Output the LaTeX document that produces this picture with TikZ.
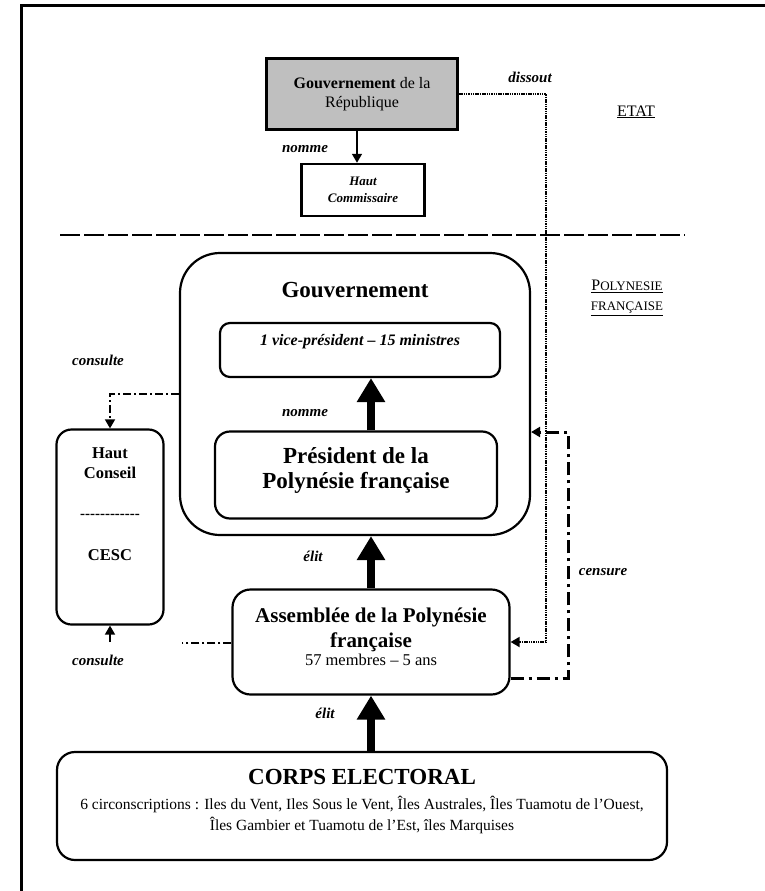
\documentclass[tikz,border=0pt]{standalone}
\usepackage{fontspec}
\setmainfont{Liberation Serif}
\usetikzlibrary{arrows.meta}
\newcommand{\fsz}[2]{\fontsize{#1}{#2}\selectfont}
\tikzstyle{sqbox} = [draw, line width=2.5pt, inner sep=0pt, align=center]
\tikzstyle{rbox} = [draw, line width=2.2pt, inner sep=0pt, rounded corners=16pt]
\tikzstyle{txt} = [inner sep=0pt, align=center]
\tikzstyle{lbl} = [inner sep=0pt, font=\fsz{15}{17}\bfseries\itshape]
\tikzstyle{thickarr} = [line width=8pt, -{Triangle[length=24pt,width=27pt]}]
\tikzstyle{smallarr} = [line width=1.6pt, -{Triangle[length=9pt,width=10pt]}]
\tikzstyle{dashdot} = [line width=1.6pt, dash pattern=on 8pt off 3pt on 2pt off 3pt]

\begin{document}
\begin{tikzpicture}[x=1pt, y=-1pt]
    \useasboundingbox (0,0) rectangle (765,891);
    \draw[line width=3pt] (21,891) -- (21,6) -- (765,6);

    % Etat
    \draw (362,94) node[sqbox, fill=black!25, line width=3pt, minimum width=191pt, minimum height=71pt, font=\fsz{16}{19}] (gouvrep) {\textbf{Gouvernement} de la\\République};
    \draw (363,190) node[sqbox, minimum width=123pt, minimum height=52pt, font=\fsz{13}{17}\bfseries\itshape] (hcom) {Haut\\Commissaire};
    \draw (305,149) node[lbl] (nomme1) {nomme};
    \draw (530,77) node[lbl] (dissout) {dissout};
    \draw (636,112) node[txt, font=\fsz{16}{18}] (etat) {\underline{ETAT}};
    \draw (627,298) node[txt, font=\fsz{13}{20}] (polyfr) {\underline{{\fsz{16}{20}P}OLYNESIE}\\\underline{FRANÇAISE}};

    \coordinate (sepL) at (60,235);
    \coordinate (sepR) at (685,235);
    \draw[line width=2pt, dash pattern=on 20pt off 4pt] (sepL) -- (sepR);

    % Polynesie francaise
    \draw (355,394) node[rbox, rounded corners=40pt, minimum width=350pt, minimum height=282pt] (gouv) {};
    \draw (355,290) node[txt, font=\fsz{23}{26}\bfseries] (gouvtxt) {Gouvernement};
    \draw (360,350) node[rbox, rounded corners=10pt, minimum width=280pt, minimum height=54pt] (vice) {};
    \draw (360,342) node[txt, font=\fsz{16}{18}\bfseries\itshape] (vicetxt) {1 vice-président -- 15 ministres};
    \draw (356,475) node[rbox, rounded corners=15pt, minimum width=282pt, minimum height=87pt] (pres) {};
    \draw (356,470) node[txt, font=\fsz{23}{25}\bfseries] (prestxt) {Président de la\\Polynésie française};
    \draw (305,413) node[lbl] (nomme2) {nomme};

    \draw (110,527) node[rbox, rounded corners=15pt, minimum width=107pt, minimum height=195pt] (hcons) {};
    \draw (110,463) node[txt, font=\fsz{16.5}{20}\bfseries] (hconstxt) {Haut\\Conseil};
    \draw (110,516) node[txt, font=\fsz{15}{20}\bfseries] (hconsdash) {-{}-{}-{}-{}-{}-{}-{}-{}-{}-{}-{}-};
    \draw (110,555) node[txt, font=\fsz{16.5}{20}\bfseries] (cesc) {CESC};
    \draw (98,360) node[lbl] (consult1) {consulte};
    \draw (98,660) node[lbl] (consult2) {consulte};

    \draw (371,642) node[rbox, rounded corners=18pt, minimum width=277pt, minimum height=105pt] (assem) {};
    \draw (371,630) node[txt, font=\fsz{21}{25}\bfseries] (assemtxt) {Assemblée de la Polynésie\\française};
    \draw (371,660) node[txt, font=\fsz{16.5}{18}] (assemsub) {57 membres -- 5 ans};
    \draw (313,556) node[lbl] (elit1) {élit};
    \draw (603,572) node[lbl] (censure) {censure};

    \draw (362,806) node[rbox, rounded corners=18pt, minimum width=610pt, minimum height=108pt] (corps) {};
    \draw (362,777) node[txt, font=\fsz{23}{26}\bfseries] (corpstxt) {CORPS ELECTORAL};
    \draw (362,815) node[txt, font=\fsz{15.5}{21}] (corpssub) {6 circonscriptions : Iles du Vent, Iles Sous le Vent, Îles Australes, Îles Tuamotu de l’Ouest,\\Îles Gambier et Tuamotu de l’Est, îles Marquises};
    \draw (325,713) node[lbl] (elit2) {élit};

    % liens
    \coordinate (nom) at (357,0);
    \draw[smallarr] (gouvrep.south -| nom) -- (hcom.north -| nom);

    \coordinate (dis) at (546,642);
    \draw[smallarr, line width=1.8pt, dash pattern=on 1.5pt off 0.8pt] (gouvrep.east) -| (dis) -- (assem.east |- dis);

    \coordinate (cen1) at (568,678);
    \coordinate (cen2) at (568,432);
    \draw[smallarr, line width=3pt, dash pattern=on 13pt off 5pt on 3pt off 5pt] (assem.east |- cen1) -- (cen1) -- (cen2) -- (gouv.east |- cen2);

    \coordinate (con1) at (110,394);
    \draw[smallarr, dashdot] (gouv.west |- con1) -| (hcons.north);
    \coordinate (con2) at (182,643);
    \draw[dashdot] (assem.west |- con2) -- (con2);
    \coordinate (con3) at (110,642);
    \draw[smallarr] (con3) -- (hcons.south);

    \coordinate (ax) at (371,0);
    \draw[thickarr] (pres.north -| ax) -- (vice.south -| ax);
    \draw[thickarr] (assem.north -| ax) -- (gouv.south -| ax);
    \draw[thickarr] (corps.north -| ax) -- (assem.south -| ax);
\end{tikzpicture}
\end{document}
